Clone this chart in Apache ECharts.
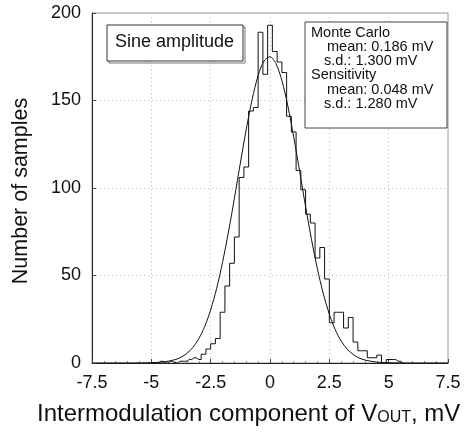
<!DOCTYPE html>
<html><head><meta charset="utf-8">
<script src="https://cdn.jsdelivr.net/npm/echarts@6/dist/echarts.min.js"></script>
<style>html,body{margin:0;padding:0;background:#fff}#c{width:473px;height:437px}</style>
</head><body><div id="c"></div>
<script>
// Histogram (Monte Carlo), bin centres in mV and counts
const binCenters = [-5.0,-4.8,-4.6,-4.4,-4.2,-4.0,-3.8,-3.6,-3.4,-3.2,-3.0,-2.8,-2.6,-2.4,-2.2,-2.0,-1.8,-1.6,-1.4,-1.2,-1.0,-0.8,-0.6,-0.4,-0.2,0.0,0.2,0.4,0.6,0.8,1.0,1.2,1.4,1.6,1.8,2.0,2.2,2.4,2.6,2.8,3.0,3.2,3.4,3.6,3.8,4.0,4.2,4.4,4.6,4.8,5.0,5.2,5.4,5.6];
const counts     = [0,0,1,0,1,0,1,1,2,3,2,5,8,11,14,29,44,57,72,106,112,144,146,189,165,193,178,172,166,141,132,110,99,85,80,60,66,48,23,29,29,20,26,12,7,7,3,3,4.5,0,2,2,1,0];
// Sensitivity (Gaussian) curve
const curveX = [-7.5,-6,-5,-4.5,-4,-3.75,-3.5,-3.25,-3,-2.75,-2.5,-2.25,-2,-1.75,-1.5,-1.25,-1,-0.75,-0.5,-0.25,0,0.25,0.5,0.75,1,1.25,1.5,1.75,2,2.25,2.5,2.75,3,3.25,3.5,3.75,4,4.5,5,6,7.5];
const curveY = [0,0,0.2,0.6,1.9,3.3,5.5,8.9,13.9,20.9,30.4,42.5,57.5,74.9,94.1,114.2,133.6,150.8,164.3,172.6,175,171.1,161.5,147,129.1,109.4,89.4,70.5,53.6,39.4,27.9,19,12.5,8,4.9,2.9,1.7,0.5,0.15,0,0];
const xTicks = [-7.5,-5,-2.5,0,2.5,5,7.5];
const yTicks = [0,50,100,150,200];
const legendLabel = 'Sine amplitude';
const statsLines = ['Monte Carlo','mean: 0.186 mV','s.d.: 1.300 mV','Sensitivity','mean: 0.048 mV','s.d.: 1.280 mV'];

const FONT = '"Liberation Sans", Arial, sans-serif';
const chart = echarts.init(document.getElementById('c'), null, {renderer:'canvas'});
const histData = binCenters.map((x,i)=>[x,counts[i]]);
const curveData = curveX.map((x,i)=>[x,curveY[i]]);
const statsIndent = [0,16,13,0,16,13];

chart.setOption({
  animation:false,
  backgroundColor:'#fff',
  grid:{left:92,top:13,width:356,height:350,show:true,borderColor:'#999',borderWidth:1,backgroundColor:'transparent'},
  xAxis:{type:'value',min:xTicks[0],max:xTicks[xTicks.length-1],interval:2.5,
    axisLine:{show:true,onZero:false,lineStyle:{color:'#222',width:1}},
    axisTick:{show:true,inside:true,length:4,lineStyle:{color:'#444'}},
    minorTick:{show:true,splitNumber:5,length:2,lineStyle:{color:'#888'}},
    axisLabel:{color:'#111',fontSize:18,fontFamily:FONT,margin:11},
    splitLine:{show:true,lineStyle:{color:'#bbb',type:[1,3],width:1}}},
  yAxis:{type:'value',min:yTicks[0],max:yTicks[yTicks.length-1],interval:50,
    axisLine:{show:true,onZero:false,lineStyle:{color:'#222',width:1}},
    axisTick:{show:true,inside:true,length:4,lineStyle:{color:'#444'}},
    axisLabel:{color:'#111',fontSize:18,fontFamily:FONT,margin:11},
    splitLine:{show:true,lineStyle:{color:'#bbb',type:[1,3],width:1}}},
  series:[
    {type:'line',data:histData,step:'middle',symbol:'none',lineStyle:{color:'#111',width:1},z:3},
    {type:'line',data:curveData,smooth:0.3,symbol:'none',lineStyle:{color:'#111',width:1},z:4}
  ],
  graphic:[
    {type:'rect',shape:{x:109,y:27,width:136,height:36},style:{fill:'none',stroke:'#777',lineWidth:1},z:9},
    {type:'rect',shape:{x:107,y:25,width:136,height:36},style:{fill:'#fff',stroke:'#333',lineWidth:1},z:10},
    {type:'text',left:115,top:33,style:{text:legendLabel,font:'18px '+FONT,fill:'#111'},z:11},
    {type:'rect',shape:{x:305,y:22,width:142,height:106},style:{fill:'#fff',stroke:'#444',lineWidth:1},z:10},
    ...statsLines.map((t,i)=>({type:'text',left:311+statsIndent[i],top:25+i*14.3,style:{text:t,font:'14.5px '+FONT,fill:'#111'},z:11})),
    {type:'text',left:37,top:402,style:{rich:{a:{fontSize:24,fontFamily:FONT,fill:'#111'},s:{fontSize:16,fontFamily:FONT,fill:'#111',verticalAlign:'bottom',padding:[8,0,0,0]}},text:'{a|Intermodulation component of V}{s|OUT}{a|, mV}'},z:11},
    {type:'text',x:21,y:191,rotation:Math.PI/2,style:{text:'Number of samples',font:'21.5px '+FONT,fill:'#111',align:'center',verticalAlign:'middle'},z:11}
  ]
});
</script></body></html>
